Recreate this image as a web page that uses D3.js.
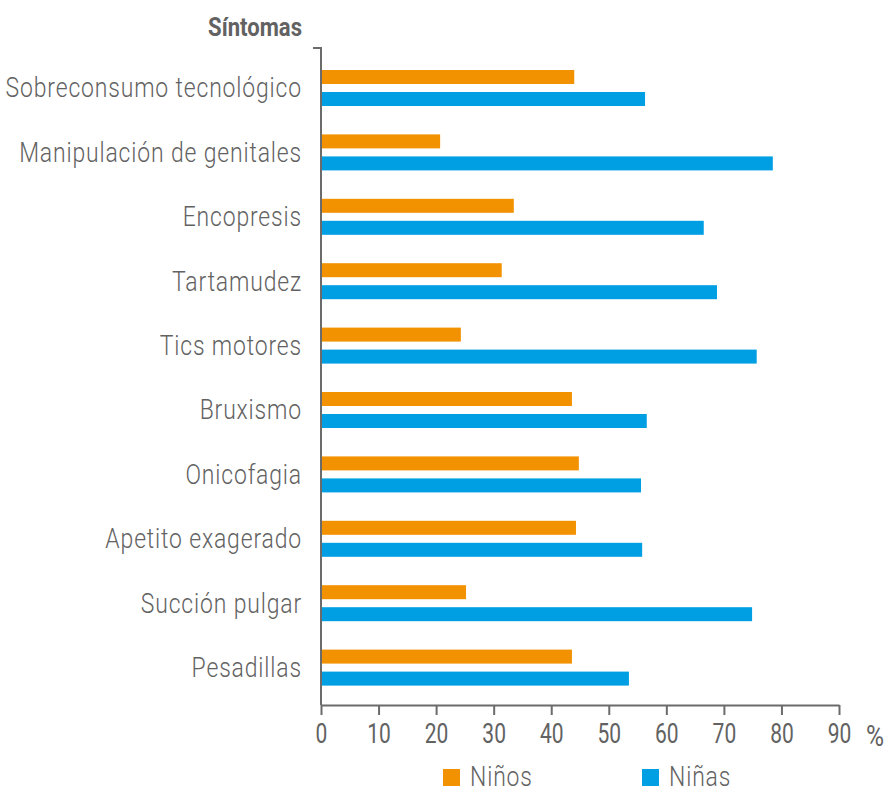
<!DOCTYPE html>
<html>
<head>
<meta charset="utf-8">
<script src="https://cdn.jsdelivr.net/npm/d3@7"></script>
<style>
  html, body { margin: 0; padding: 0; background: #fff; }
  svg { display: block; }
  text { font-family: Roboto, "Open Sans", sans-serif; fill: #626262; }
</style>
</head>
<body>
<div id="chart"></div>
<script>
// datos (%)
const categories = [
  'Sobreconsumo tecnológico', 'Manipulación de genitales', 'Encopresis', 'Tartamudez',
  'Tics motores', 'Bruxismo', 'Onicofagia ', 'Apetito exagerado', 'Succión pulgar', 'Pesadillas'
];
const ninos = [44.0, 20.7, 33.5, 31.4, 24.3, 43.6, 44.8, 44.3, 25.2, 43.6];
const ninas = [56.3, 78.5, 66.5, 68.8, 75.7, 56.6, 55.6, 55.8, 74.9, 53.5];
const seriesNames = ['Niños', 'Niñas'];
const xTicks = [0, 10, 20, 30, 40, 50, 60, 70, 80, 90];

const W = 885, H = 789;
const axisColor = '#6b6b6b';
const condense = 'scale(0.85,1)';   // imitar tipografía condensada
const color = d3.scaleOrdinal().domain(seriesNames).range(['#F39200', '#009FE3']);

const svg = d3.select('#chart').append('svg')
  .attr('width', W).attr('height', H);

const x = d3.scaleLinear().domain([0, 90]).range([321, 839]);

// grupos por síntoma
const y = d3.scaleBand().domain(categories)
  .range([55.8, 699.8])
  .paddingInner(0.441).paddingOuter(0.2205);

const ySub = d3.scaleBand().domain(seriesNames)
  .range([0, y.bandwidth()])
  .paddingInner(0.364);

const rows = categories.map((c, i) => ({ cat: c, values: [ninos[i], ninas[i]] }));

const groups = svg.append('g').selectAll('g.row')
  .data(rows).join('g')
  .attr('class', 'row')
  .attr('transform', d => `translate(0,${y(d.cat)})`);

groups.selectAll('rect')
  .data(d => d.values.map((v, j) => ({ key: seriesNames[j], v })))
  .join('rect')
  .attr('x', x(0))
  .attr('y', d => ySub(d.key))
  .attr('width', d => x(d.v) - x(0))
  .attr('height', ySub.bandwidth())
  .attr('fill', d => color(d.key));

// etiquetas de categorías
svg.append('g').selectAll('g')
  .data(categories).join('g')
  .attr('transform', d => `translate(302,${y(d) + y.bandwidth() / 2})`)
  .append('text')
  .attr('transform', condense)
  .attr('dy', '0.35em')
  .attr('text-anchor', 'end')
  .attr('font-size', 27)
  .attr('font-weight', 300)
  .attr('letter-spacing', 1)
  .text(d => d);

// eje y
svg.append('path')
  .attr('d', `M313,48H${x(0)}V705`)
  .attr('fill', 'none')
  .attr('stroke', axisColor)
  .attr('stroke-width', 2);

// eje x
const xAxis = svg.append('g')
  .attr('transform', 'translate(0,705)')
  .call(d3.axisBottom(x).tickValues(xTicks).tickSizeOuter(0).tickSizeInner(10).tickPadding(8));
xAxis.select('.domain').attr('stroke', axisColor).attr('stroke-width', 2);
xAxis.selectAll('.tick line').attr('stroke', axisColor).attr('stroke-width', 2);
xAxis.selectAll('.tick text')
  .attr('fill', '#626262')
  .attr('font-size', 28)
  .attr('font-weight', 400)
  .attr('font-family', 'Roboto, sans-serif')
  .attr('transform', 'scale(0.75,1)');

svg.append('g').attr('transform', 'translate(875,746)')
  .append('text')
  .attr('transform', 'scale(0.85,1)')
  .attr('text-anchor', 'middle')
  .attr('font-size', 29)
  .attr('font-weight', 400)
  .text('%');

// título
svg.append('g').attr('transform', 'translate(302,36)')
  .append('text')
  .attr('transform', condense)
  .attr('text-anchor', 'end')
  .attr('font-size', 26)
  .attr('font-weight', 'bold')
  .text('Síntomas');

// leyenda
const legendX = [443, 642];
const legend = svg.append('g').selectAll('g')
  .data(seriesNames).join('g')
  .attr('transform', (d, i) => `translate(${legendX[i]},769)`);
legend.append('rect')
  .attr('width', 17).attr('height', 17)
  .attr('fill', d => color(d));
legend.append('g').attr('transform', 'translate(27,17)')
  .append('text')
  .attr('transform', condense)
  .attr('font-size', 27)
  .attr('font-weight', 300)
  .attr('letter-spacing', 1)
  .text(d => d);
</script>
</body>
</html>
